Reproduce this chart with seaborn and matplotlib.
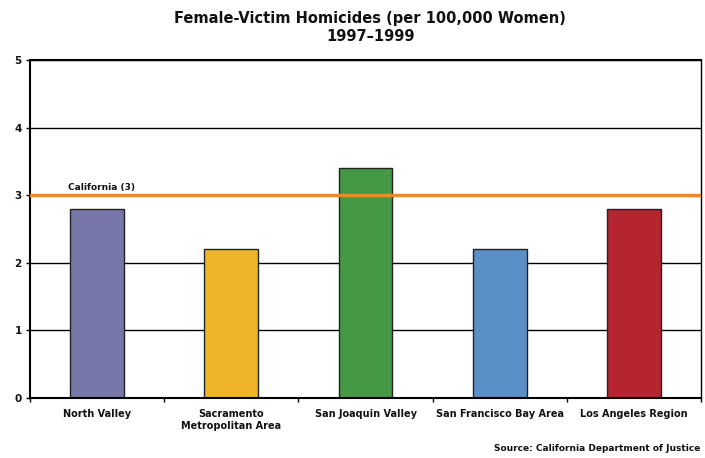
import matplotlib
matplotlib.use("Agg")
import matplotlib.pyplot as plt
import seaborn as sns
import pandas as pd
import numpy as np

regions = ["North Valley", "Sacramento\nMetropolitan Area", "San Joaquin Valley",
           "San Francisco Bay Area", "Los Angeles Region"]
rates = [2.8, 2.2, 3.4, 2.2, 2.8]
colors = ["#7777AA", "#EEB42A", "#459945", "#5B8FC8", "#B5242F"]
state_rate = 3
yticks = [0, 1, 2, 3, 4, 5]

sns.set_theme(style="white")
plt.rcParams['font.family'] = ['DejaVu Sans']
plt.rcParams['text.color'] = '#111111'
plt.rcParams['xtick.color'] = '#111111'
plt.rcParams['ytick.color'] = '#111111'

df = pd.DataFrame({"region": regions, "rate": rates})
fig = plt.figure(figsize=(7.05, 4.58), dpi=100)
ax = fig.add_axes([0.0426, 0.131, 0.9517, 0.738])
for y in yticks[1:]:
    ax.axhline(y, color="black", lw=1.0, zorder=0)
sns.barplot(data=df, x="region", y="rate", hue="region", palette=colors, saturation=1,
            width=0.4, edgecolor="#222222", linewidth=1.0, legend=False, ax=ax, zorder=2)
ax.axhline(state_rate, color="#E8892B", lw=2.5, zorder=3)
ax.text(-0.22, state_rate + 0.05, "California (3)", fontsize=6.5,
        fontweight="bold", ha="left", va="bottom")
ax.set_xlim(-0.5, 4.5)
ax.set_ylim(0, 5)
ax.set_yticks(yticks)
ax.set_yticklabels([str(v) for v in yticks], fontsize=7.5, fontweight="bold")
ax.set_xticks(range(len(regions)))
ax.set_xticklabels(regions, fontsize=7, fontweight="bold")
ax.tick_params(axis="x", length=0, pad=8)
ax.tick_params(axis="y", length=3, width=1, color="black", pad=3, left=True)
ax.set_xticks(np.arange(-0.5, 5, 1), minor=True)
ax.tick_params(axis="x", which="minor", length=3, width=1, color="black", bottom=True, direction="out")
ax.set_xlabel("")
ax.set_ylabel("")
for s in ["left", "bottom", "right", "top"]:
    ax.spines[s].set_visible(True)
    ax.spines[s].set_color("black")
ax.spines["left"].set_linewidth(1.5)
ax.spines["bottom"].set_linewidth(1.5)
ax.spines["top"].set_linewidth(1.5)
ax.spines["right"].set_linewidth(1.0)
fig.text(0.525, 0.975, "Female-Victim Homicides (per 100,000 Women)\n1997\u20131999",
         ha="center", va="top", fontsize=10.5, fontweight="bold", linespacing=1.2)
fig.text(0.993, 0.01, "Source: California Department of Justice", ha="right", va="bottom",
         fontsize=6.5, fontweight="bold")
fig.savefig("out.png", dpi=100)
